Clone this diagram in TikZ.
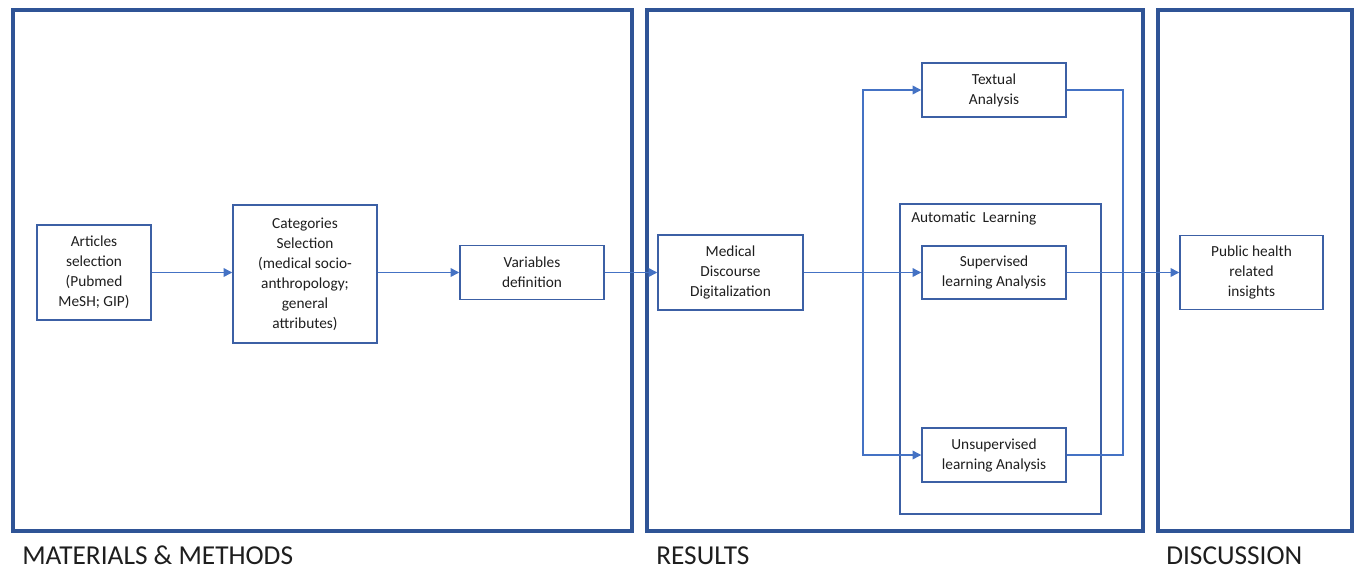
\documentclass[tikz,border=0pt]{standalone}
\usepackage{fontspec}
\setmainfont{Carlito}
\usetikzlibrary{arrows.meta,calc}
\newdimen\px \px=0.75pt
\definecolor{panelc}{RGB}{47,84,150}
\definecolor{connc}{RGB}{68,114,196}
\definecolor{boxc}{RGB}{60,96,165}
\definecolor{txtc}{RGB}{30,30,30}
\tikzset{
  panel/.style={draw=panelc,line width=3pt},
  stepbox/.style={draw=boxc,line width=1.1pt,fill=white,align=center,inner sep=0pt,
     font=\fontsize{11.5}{15}\selectfont,text=txtc},
  conn/.style={draw=connc,line width=1pt,-{Triangle[length=6.5pt,width=6.5pt]}},
  connline/.style={draw=connc,line width=1pt},
  seclabel/.style={font=\fontsize{20.5}{24}\selectfont,text=txtc,anchor=base west,inner sep=0pt}
}
\begin{document}
\begin{tikzpicture}[x=0.75pt,y=-0.75pt]
\useasboundingbox (0,0) rectangle (1356,571);
% panels
\draw[panel] (13,10) rectangle (632,531);
\draw[panel] (647,10) rectangle (1143,531);
\draw[panel] (1158,10) rectangle (1352,531);
% container
\draw[draw=boxc,line width=1.1pt] (900,204) rectangle (1101,514);
\node[anchor=west,inner sep=0pt,font=\fontsize{11.5}{15}\selectfont,text=txtc] (autol) at (911,219) {Automatic\ \ Learning};
% boxes
\node[stepbox,minimum width=114\px,minimum height=95\px] (art) at (94,272.5) {Articles\\selection\\(Pubmed\\MeSH; GIP)};
\node[stepbox,minimum width=144\px,minimum height=138\px] (cat) at (305,274) {Categories\\Selection\\(medical socio-\\anthropology;\\general\\attributes)};
\node[stepbox,minimum width=144\px,minimum height=54\px] (var) at (532,272.5) {Variables\\definition};
\node[stepbox,minimum width=145\px,minimum height=75\px] (med) at (730.5,272.5) {Medical\\Discourse\\Digitalization};
\node[stepbox,minimum width=144\px,minimum height=54\px] (tex) at (994,90) {Textual\\Analysis};
\node[stepbox,minimum width=144\px,minimum height=53\px] (sup) at (994,272.5) {Supervised\\learning Analysis};
\node[stepbox,minimum width=144\px,minimum height=54\px] (uns) at (994,455) {Unsupervised\\learning Analysis};
\node[stepbox,minimum width=143\px,minimum height=74\px] (pub) at (1251.5,272.5) {Public health\\related\\insights};
% coordinates
\coordinate (br) at (863,272.5);
\coordinate (ret) at (1123,272.5);
% connectors
\draw[conn] (art.east) -- (art.east -| cat.west);
\draw[conn] (cat.east |- var.west) -- (var.west);
\draw[conn] (var.east) -- (var.east -| med.west);
\draw[conn] (med.east) -- (sup.west);
\draw[conn] (br) |- (tex.west);
\draw[conn] (br) |- (uns.west);
\draw[connline] (tex.east) -| (ret);
\draw[connline] (uns.east) -| (ret);
\draw[conn] (sup.east) -- (pub.west);
% section labels
\node[seclabel] (l1) at (22,564) {MATERIALS \& METHODS};
\node[seclabel] (l2) at (656,564) {RESULTS};
\node[seclabel] (l3) at (1166,564) {DISCUSSION};
\end{tikzpicture}
\end{document}
